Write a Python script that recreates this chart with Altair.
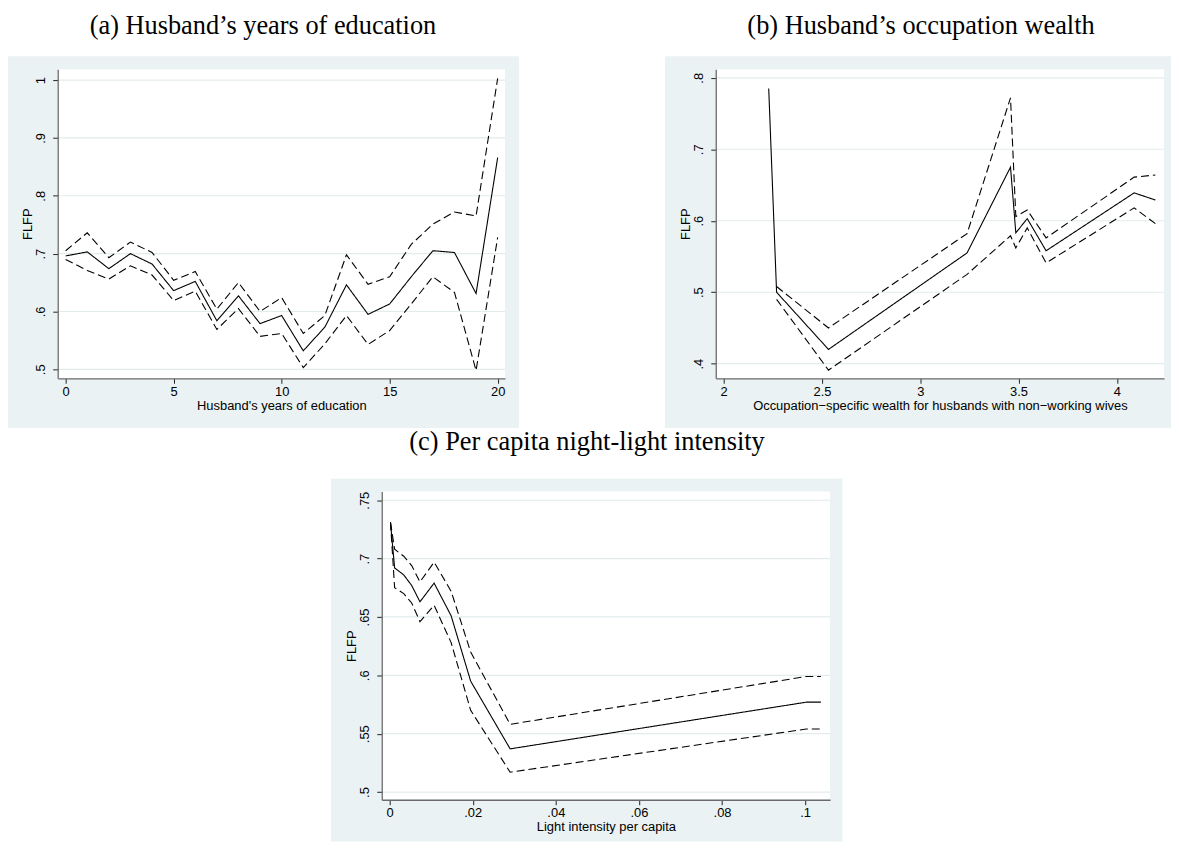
import altair as alt
import pandas as pd

GRAY = "#EAF2F3"
GRID = "#E3EBED"
SERIF = "Liberation Serif"
SANS = "Liberation Sans"

# ---------------- (a) Husband's years of education ----------------
a_x = list(range(21))
a_fit = [0.696, 0.703, 0.674, 0.700, 0.682, 0.636, 0.652, 0.584, 0.627, 0.579, 0.593,
         0.532, 0.573, 0.646, 0.595, 0.613, 0.660, 0.705, 0.702, 0.631, 0.866]
a_hi = [0.705, 0.736, 0.693, 0.720, 0.702, 0.654, 0.669, 0.604, 0.650, 0.600, 0.624,
        0.562, 0.593, 0.698, 0.647, 0.660, 0.716, 0.751, 0.772, 0.765, 1.003]
a_lo = [0.690, 0.671, 0.656, 0.679, 0.663, 0.619, 0.635, 0.569, 0.605, 0.557, 0.562,
        0.503, 0.544, 0.593, 0.543, 0.567, 0.613, 0.660, 0.633, 0.498, 0.728]
a_xticks = [0, 5, 10, 15, 20]
a_yticks = [0.5, 0.6, 0.7, 0.8, 0.9, 1.0]

# ---------------- (b) Husband's occupation wealth ----------------
b_x = [2.229, 2.269, 2.533, 3.238, 3.459, 3.486, 3.544, 3.640, 4.088, 4.196]
b_fit = [0.785, 0.500, 0.420, 0.555, 0.675, 0.583, 0.603, 0.558, 0.639, 0.629]
b_hi = [None, 0.508, 0.450, 0.582, 0.772, 0.606, 0.615, 0.576, 0.661, 0.664]
b_lo = [None, 0.490, 0.391, 0.525, 0.579, 0.562, 0.590, 0.541, 0.618, 0.596]
b_xticks = [2, 2.5, 3, 3.5, 4]
b_yticks = [0.4, 0.5, 0.6, 0.7, 0.8]

# ---------------- (c) Per capita night-light intensity ----------------
c_x = [0.0002, 0.0012, 0.0034, 0.0053, 0.0073, 0.0107, 0.0148, 0.0195, 0.0290, 0.1003, 0.1038]
c_fit = [0.731, 0.692, 0.686, 0.677, 0.663, 0.679, 0.651, 0.595, 0.537, 0.577, 0.577]
c_hi = [0.731, 0.708, 0.702, 0.694, 0.680, 0.697, 0.672, 0.620, 0.558, 0.599, 0.599]
c_lo = [0.731, 0.675, 0.670, 0.662, 0.646, 0.660, 0.628, 0.570, 0.517, 0.554, 0.554]
c_xticks = [0, 0.02, 0.04, 0.06, 0.08, 0.1]
c_yticks = [0.5, 0.55, 0.6, 0.65, 0.7, 0.75]

LABEL_EXPR = "replace(format(datum.value, '~g'), '0.', '.')"


def panel(title, xtitle, xs, fit, hi, lo, xdom, ydom, xticks, yticks,
          w, h, gray, top_space, title_y):
    rows = []
    for xi, f, u, l in zip(xs, fit, hi, lo):
        rows.append({"x": xi, "y": f, "band": "fit"})
        if u is not None:
            rows.append({"x": xi, "y": u, "band": "upper"})
        if l is not None:
            rows.append({"x": xi, "y": l, "band": "lower"})
    df = pd.DataFrame(rows)
    one = pd.DataFrame({"k": [0]})

    common = dict(domainColor="#6a6a6a", domainWidth=1.3, tickColor="#222222",
                  tickSize=5, tickWidth=1, labelFont=SANS, labelFontSize=13,
                  labelColor="#000000", titleFont=SANS, titleFontSize=13,
                  titleFontWeight="normal", titleColor="#000000", grid=False,
                  zindex=1, labelExpr=LABEL_EXPR)
    xenc = alt.X("x:Q", scale=alt.Scale(domain=xdom, nice=False, zero=False),
                 axis=alt.Axis(values=xticks, title=xtitle, labelPadding=2,
                               titlePadding=1, labelFlush=False, **common))
    yenc = alt.Y("y:Q", scale=alt.Scale(domain=ydom, nice=False, zero=False),
                 axis=alt.Axis(values=yticks, title="FLFP", labelAngle=270,
                               labelAlign="center", labelBaseline="alphabetic",
                               labelPadding=8, titlePadding=0, labelFlush=False,
                               **common))

    gl, gr, gt, gb = gray
    space = alt.Chart(one).mark_rect(opacity=0).encode(
        x=alt.value(-gl), x2=alt.value(0), y=alt.value(-top_space), y2=alt.value(0))
    bg = alt.Chart(one).mark_rect(color=GRAY).encode(
        x=alt.value(-gl), x2=alt.value(w + gr), y=alt.value(-gt), y2=alt.value(h + gb))
    white = alt.Chart(one).mark_rect(color="white").encode(
        x=alt.value(0), x2=alt.value(w), y=alt.value(0), y2=alt.value(h))
    grid = alt.Chart(pd.DataFrame({"y": yticks})).mark_rule(
        color=GRID, strokeWidth=1.2).encode(y=yenc, x=alt.value(0), x2=alt.value(w))
    lines = alt.Chart(df).mark_line(color="black", strokeWidth=1.1).encode(
        x=xenc, y=yenc,
        strokeDash=alt.StrokeDash("band:N", legend=None,
                                  scale=alt.Scale(domain=["fit", "upper", "lower"],
                                                  range=[[1, 0], [8, 4], [8, 4]])),
        order="x:Q")
    ttl = alt.Chart(one).mark_text(font=SERIF, fontSize=26.5, color="black",
                                   align="center", baseline="alphabetic").encode(
        x=alt.value(206.5), y=alt.value(title_y), text=alt.value(title))
    return alt.layer(space, bg, white, grid, lines, ttl).properties(width=w, height=h)


A = panel("(a) Husband\u2019s years of education", "Husband's years of education",
          a_x, a_fit, a_hi, a_lo, [-0.368, 20.34], [0.4845, 1.0189],
          a_xticks, a_yticks, 450, 311, (50, 14, 13, 50), 59, -35)
B = panel("(b) Husband\u2019s occupation wealth",
          "Occupation\u2212specific wealth for husbands with non\u2212working wives",
          b_x, b_fit, b_hi, b_lo, [1.9595, 4.240], [0.3796, 0.8121],
          b_xticks, b_yticks, 451, 311, (51, 7, 13, 50), 59, -35)
C = panel("(c) Per capita night-light intensity", "Light intensity per capita",
          c_x, c_fit, c_hi, c_lo, [-0.0019, 0.106], [0.4934, 0.7574],
          c_xticks, c_yticks, 451, 310, (51, 12.5, 13, 42), 64, -42)

one_row = pd.DataFrame({"k": [0]})
spacer = alt.Chart(one_row).mark_rect(opacity=0).encode(
    x=alt.value(0), x2=alt.value(275), y=alt.value(0), y2=alt.value(10)
).properties(width=275, height=10)

chart = alt.vconcat(
    alt.hconcat(A, B, spacing=147),
    alt.hconcat(spacer, C, spacing=0),
    spacing=0,
).properties(padding=0).configure_view(stroke=None)

chart.save("out.html", embed_options={"renderer": "svg", "actions": False})
